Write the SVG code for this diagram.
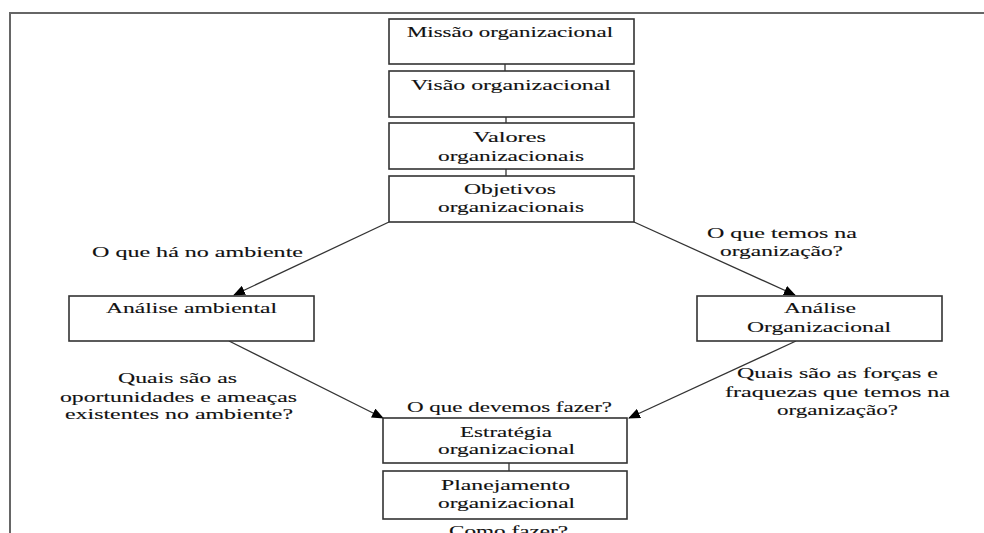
<svg xmlns="http://www.w3.org/2000/svg" width="984" height="533" viewBox="0 0 984 533">
<defs>
<style>
.box{fill:#fff;stroke:#333;stroke-width:1.6}
.t{font-family:"Liberation Serif","Times New Roman",serif;font-size:15.5px;fill:#111;stroke:#111;stroke-width:0.12}
.ln{stroke:#333;stroke-width:1.3;fill:none}
.frame{stroke:#666;stroke-width:2;fill:none}
</style>
<marker id="ah" markerWidth="12" markerHeight="10" refX="11" refY="5" orient="auto" markerUnits="userSpaceOnUse">
<path d="M0,0 L12,5 L0,10 Z" fill="#000"/>
</marker>
</defs>
<rect width="984" height="533" fill="#fff"/>
<path class="frame" d="M10,533 V13 H984"/>
<g id="connectors">
<line class="ln" x1="505" y1="64" x2="505" y2="71"/>
<line class="ln" x1="506" y1="117" x2="506" y2="123"/>
<line class="ln" x1="506" y1="169" x2="506" y2="176"/>
<line class="ln" x1="509" y1="463" x2="509" y2="471"/>
<line class="ln" x1="389" y1="222" x2="234" y2="295" marker-end="url(#ah)"/>
<line class="ln" x1="634" y1="222" x2="795" y2="295" marker-end="url(#ah)"/>
<line class="ln" x1="229" y1="341" x2="383" y2="418" marker-end="url(#ah)"/>
<line class="ln" x1="796" y1="341" x2="629" y2="418" marker-end="url(#ah)"/>
</g>
<g id="missao">
<rect class="box" x="389" y="19" width="245" height="45"/>
<text class="t" x="407" y="37" textLength="206" lengthAdjust="spacingAndGlyphs">Missão organizacional</text>
</g>
<g id="visao">
<rect class="box" x="389" y="71" width="245" height="46"/>
<text class="t" x="411" y="90" textLength="200" lengthAdjust="spacingAndGlyphs">Visão organizacional</text>
</g>
<g id="valores">
<rect class="box" x="389" y="123" width="245" height="46"/>
<text class="t" x="473" y="142" textLength="73" lengthAdjust="spacingAndGlyphs">Valores</text>
<text class="t" x="438" y="161" textLength="146" lengthAdjust="spacingAndGlyphs">organizacionais</text>
</g>
<g id="objetivos">
<rect class="box" x="389" y="176" width="245" height="46"/>
<text class="t" x="464" y="194" textLength="92" lengthAdjust="spacingAndGlyphs">Objetivos</text>
<text class="t" x="438" y="212" textLength="146" lengthAdjust="spacingAndGlyphs">organizacionais</text>
</g>
<g id="label-ambiente">
<text class="t" x="92" y="257" textLength="211" lengthAdjust="spacingAndGlyphs">O que há no ambiente</text>
</g>
<g id="label-organizacao">
<text class="t" x="707" y="238" textLength="150" lengthAdjust="spacingAndGlyphs">O que temos na</text>
<text class="t" x="720" y="256" textLength="123" lengthAdjust="spacingAndGlyphs">organização?</text>
</g>
<g id="analise-ambiental">
<rect class="box" x="69" y="296" width="245" height="45"/>
<text class="t" x="106" y="313" textLength="171" lengthAdjust="spacingAndGlyphs">Análise ambiental</text>
</g>
<g id="analise-organizacional">
<rect class="box" x="697" y="296" width="245" height="45"/>
<text class="t" x="784" y="313" textLength="72" lengthAdjust="spacingAndGlyphs">Análise</text>
<text class="t" x="747" y="332" textLength="144" lengthAdjust="spacingAndGlyphs">Organizacional</text>
</g>
<g id="label-oportunidades">
<text class="t" x="118" y="383" textLength="119" lengthAdjust="spacingAndGlyphs">Quais são as</text>
<text class="t" x="60" y="402" textLength="237" lengthAdjust="spacingAndGlyphs">oportunidades e ameaças</text>
<text class="t" x="65" y="419" textLength="228" lengthAdjust="spacingAndGlyphs">existentes no ambiente?</text>
</g>
<g id="label-forcas">
<text class="t" x="737" y="378" textLength="201" lengthAdjust="spacingAndGlyphs">Quais são as forças e</text>
<text class="t" x="725" y="397" textLength="225" lengthAdjust="spacingAndGlyphs">fraquezas que temos na</text>
<text class="t" x="777" y="415" textLength="121" lengthAdjust="spacingAndGlyphs">organização?</text>
</g>
<g id="label-devemos">
<text class="t" x="407" y="412" textLength="205" lengthAdjust="spacingAndGlyphs">O que devemos fazer?</text>
</g>
<g id="estrategia">
<rect class="box" x="383" y="418" width="244" height="45"/>
<text class="t" x="460" y="437" textLength="92" lengthAdjust="spacingAndGlyphs">Estratégia</text>
<text class="t" x="438" y="454" textLength="137" lengthAdjust="spacingAndGlyphs">organizacional</text>
</g>
<g id="planejamento">
<rect class="box" x="383" y="471" width="244" height="48"/>
<text class="t" x="441" y="490" textLength="129" lengthAdjust="spacingAndGlyphs">Planejamento</text>
<text class="t" x="438" y="508" textLength="137" lengthAdjust="spacingAndGlyphs">organizacional</text>
</g>
<g id="label-como">
<text class="t" x="449" y="536" textLength="119" lengthAdjust="spacingAndGlyphs">Como fazer?</text>
</g>
</svg>
